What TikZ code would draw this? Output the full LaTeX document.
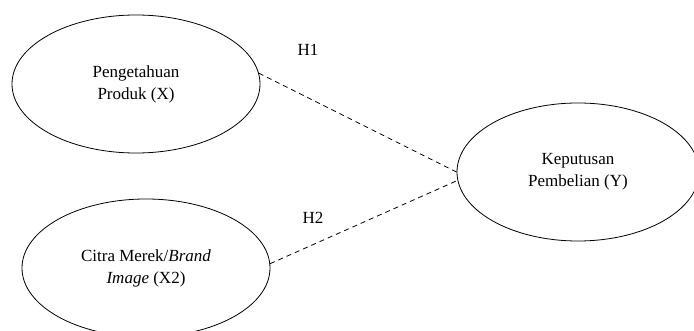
\documentclass[tikz,border=0pt]{standalone}
\usepackage{fontspec}
\setmainfont{Liberation Serif}
\usetikzlibrary{shapes.geometric,positioning}

\tikzset{var/.style={ellipse,draw,minimum width=248pt,minimum height=138pt,align=center,inner sep=0pt},
hyp/.style={dashed,dash pattern=on 5pt off 4pt}}

\begin{document}
\begin{tikzpicture}[x=1pt,y=-1pt,line width=0.8pt,font=\fontsize{17}{22}\selectfont]
\useasboundingbox (0,0) rectangle (694,331);
\coordinate (P) at (136,84);
\coordinate (C) at (146,268);
\coordinate (K) at (578,172);
\node[var] (pk) at (P) {Pengetahuan\\Produk (X)};
\node[var] (cm) at (C) {Citra Merek/\textit{Brand}\\\textit{Image} (X2)};
\node[var,minimum width=242pt] (kp) at (K) {Keputusan\\Pembelian (Y)};
\node (h1) at (308,50) {H1};
\node (h2) at (313,218) {H2};
\draw [hyp] (pk.5)--(kp.180);
\draw [hyp] (cm.2)--(kp.184);
\end{tikzpicture}
\end{document}
